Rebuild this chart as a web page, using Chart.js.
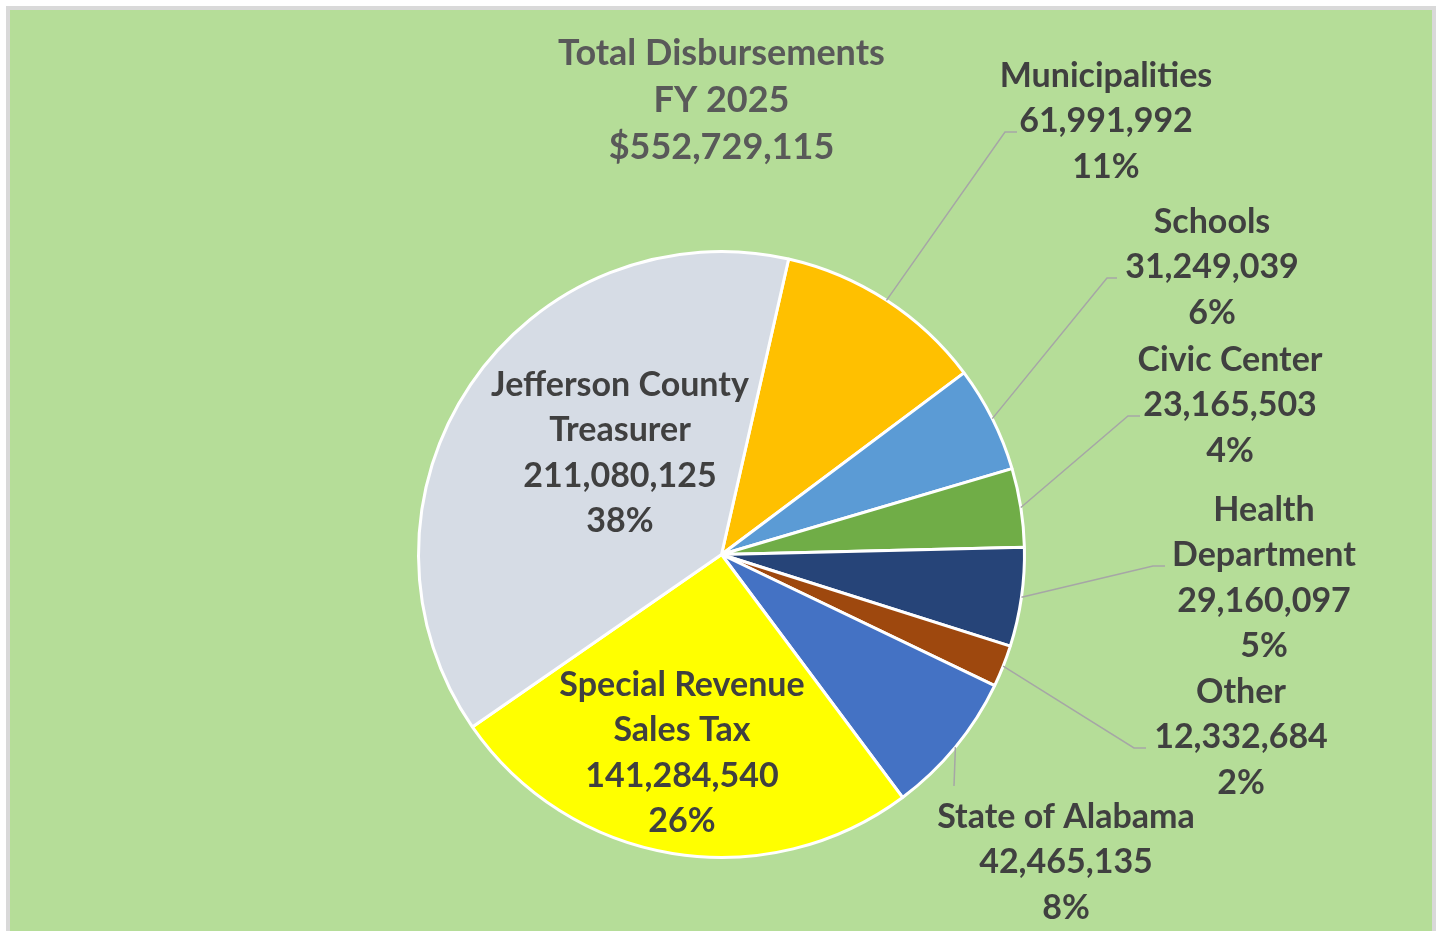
<!DOCTYPE html>
<html>
<head>
<meta charset="utf-8">
<script src="https://cdn.jsdelivr.net/npm/chart.js@4.4.1/dist/chart.umd.min.js"></script>
<style>
  html, body { margin: 0; padding: 0; background: #ffffff; overflow: hidden; width: 1439px; height: 931px; }
  #frame { position: absolute; left: 6px; top: 6px; width: 1422px; height: 1000px;
           border: 4px solid #D9D9D9; background: #B5DD98; }
  #c { position: absolute; left: 0; top: 0; }
</style>
</head>
<body>
<div id="frame"></div>
<canvas id="c" width="1439" height="931"></canvas>
<script>
// ---- data ----
const titleLines = ['Total Disbursements', 'FY 2025', '$552,729,115'];
const categories = [
  ['Municipalities'],
  ['Schools'],
  ['Civic Center'],
  ['Health', 'Department'],
  ['Other'],
  ['State of Alabama'],
  ['Special Revenue', 'Sales Tax'],
  ['Jefferson County', 'Treasurer']
];
const values = [61991992, 31249039, 23165503, 29160097, 12332684, 42465135, 141284540, 211080125];
const colors = ['#FFC000', '#5B9BD5', '#70AD47', '#264478', '#9E480E', '#4472C4', '#FFFF00', '#D6DCE5'];

// ---- label layout (positions of data labels and leader lines) ----
const FONT = 'Lato';
const FONT_SIZE = 34;
const LINE_H = 45.5;
const TITLE_SIZE = 36;
const TITLE_LINE_H = 46.8;
const labelLayout = [
  { x: 1106, y: 76,  leader: [[1005, 132], [1017, 132]] },
  { x: 1212, y: 222, leader: [[1107, 278], [1117, 278]] },
  { x: 1230, y: 360, leader: [[1128, 416], [1140, 416]] },
  { x: 1264, y: 510, leader: [[1153, 566], [1165, 566]] },
  { x: 1241, y: 692, leader: [[1134, 748], [1146, 748]] },
  { x: 1066, y: 817, leader: [[954, 786]] },
  { x: 682,  y: 685, leader: null },
  { x: 620,  y: 385, leader: null }
];

const total = values.reduce((a, b) => a + b, 0);
const fmt = n => n.toLocaleString('en-US');

const labelPlugin = {
  id: 'pieLabels',
  afterDatasetsDraw(chart) {
    const ctx = chart.ctx;
    const meta = chart.getDatasetMeta(0);
    ctx.save();
    meta.data.forEach((arc, i) => {
      const p = arc.getProps(['x', 'y', 'startAngle', 'endAngle', 'outerRadius'], true);
      const lay = labelLayout[i];
      if (lay.leader) {
        const mid = (p.startAngle + p.endAngle) / 2;
        const sx = p.x + Math.cos(mid) * p.outerRadius;
        const sy = p.y + Math.sin(mid) * p.outerRadius;
        ctx.beginPath();
        ctx.moveTo(sx, sy);
        lay.leader.forEach(pt => ctx.lineTo(pt[0], pt[1]));
        ctx.strokeStyle = '#A6A6A6';
        ctx.lineWidth = 1.5;
        ctx.stroke();
      }
      const lines = categories[i].concat([fmt(values[i]), Math.round(values[i] / total * 100) + '%']);
      ctx.font = 'bold ' + FONT_SIZE + 'px ' + FONT;
      ctx.fillStyle = '#404040';
      ctx.textAlign = 'center';
      ctx.textBaseline = 'middle';
      lines.forEach((t, k) => ctx.fillText(t, lay.x, lay.y + k * LINE_H));
    });
    ctx.restore();
  }
};

new Chart(document.getElementById('c'), {
  type: 'pie',
  data: {
    labels: categories,
    datasets: [{
      data: values,
      backgroundColor: colors,
      borderColor: '#FFFFFF',
      borderWidth: 3,
      hoverOffset: 0
    }]
  },
  options: {
    responsive: false,
    animation: false,
    rotation: 12.8,
    layout: { padding: { left: 417, right: 413, top: 0, bottom: 72 } },
    plugins: {
      legend: { display: false },
      tooltip: { enabled: false },
      title: {
        display: true,
        text: titleLines,
        color: '#595959',
        font: { family: FONT, size: TITLE_SIZE, weight: 'bold', lineHeight: TITLE_LINE_H / TITLE_SIZE },
        padding: { top: 30, bottom: 250 - 30 - 3 * TITLE_LINE_H }
      }
    }
  },
  plugins: [labelPlugin]
});
</script>
</body>
</html>
